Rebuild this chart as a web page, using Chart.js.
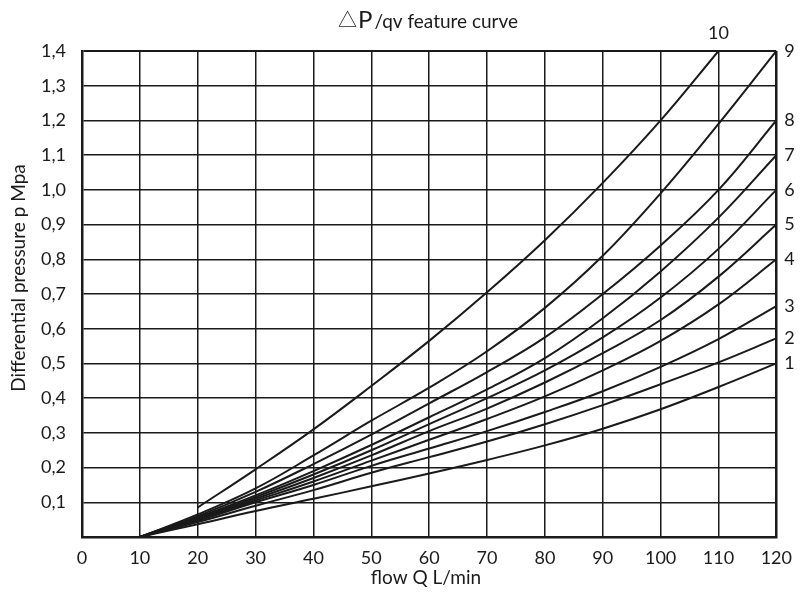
<!DOCTYPE html>
<html lang="en">
<head>
  <meta charset="UTF-8">
  <title>ΔP/qv feature curve</title>
  <script src="https://cdn.jsdelivr.net/npm/chart.js"></script>
  <style>
    body { margin: 0; background: #fff; }
    canvas { display: block; }
  </style>
</head>
<body>
  <canvas id="curveChart" width="802" height="592"></canvas>

  <script>
    // flow Q (L/min) at each grid column
    const flow = [10, 20, 30, 40, 50, 60, 70, 80, 90, 100, 110, 120];

    // differential pressure (MPa), one array per curve
    const curve1 = [0, 0.037, 0.075, 0.11, 0.146, 0.183, 0.222, 0.264, 0.312, 0.368, 0.432, 0.5];
    const curve2 = [0, 0.043, 0.09, 0.135, 0.185, 0.23, 0.275, 0.325, 0.38, 0.44, 0.503, 0.572];
    const curve3 = [0, 0.047, 0.1, 0.15, 0.205, 0.255, 0.305, 0.36, 0.42, 0.49, 0.57, 0.665];
    const curve4 = [0, 0.05, 0.105, 0.16, 0.22, 0.28, 0.34, 0.405, 0.48, 0.565, 0.67, 0.8];
    const curve5 = [0, 0.052, 0.11, 0.17, 0.235, 0.305, 0.37, 0.445, 0.53, 0.625, 0.75, 0.9];
    const curve6 = [0, 0.055, 0.115, 0.18, 0.25, 0.325, 0.4, 0.48, 0.575, 0.69, 0.83, 1.0];
    const curve7 = [0, 0.057, 0.12, 0.19, 0.265, 0.345, 0.425, 0.515, 0.63, 0.765, 0.92, 1.1];
    const curve8 = [0, 0.06, 0.13, 0.21, 0.295, 0.385, 0.475, 0.575, 0.7, 0.84, 1.0, 1.2];
    const curve9 = [0, 0.065, 0.14, 0.235, 0.335, 0.43, 0.535, 0.66, 0.81, 0.99, 1.19, 1.4];
    const curve10 = [null, 0.085, 0.195, 0.31, 0.435, 0.565, 0.705, 0.855, 1.02, 1.2, 1.4, null];

    const curves = [curve1, curve2, curve3, curve4, curve5, curve6, curve7, curve8, curve9, curve10];
    const curveNames = ['1', '2', '3', '4', '5', '6', '7', '8', '9', '10'];

    const yTicks = [0.1, 0.2, 0.3, 0.4, 0.5, 0.6, 0.7, 0.8, 0.9, 1.0, 1.1, 1.2, 1.3, 1.4];

    const FONT = 'Lato, "Open Sans", sans-serif';
    const INK = '#1a1a1a';

    const datasets = curves.map((c, i) => ({
      label: curveNames[i],
      data: flow.map((q, j) => ({ x: q, y: c[j] })).filter(p => p.y !== null),
      borderColor: INK,
      borderWidth: 2,
      pointRadius: 0,
      fill: false,
      tension: 0.4
    }));

    // curve numbers, main title and axis titles
    const annotate = {
      id: 'annotate',
      afterDraw(chart) {
        const { ctx, chartArea, scales } = chart;
        const xs = scales.x, ys = scales.y;
        ctx.save();
        ctx.fillStyle = INK;

        // numbers at the end of each curve
        ctx.font = '18px ' + FONT;
        ctx.textBaseline = 'middle';
        curves.forEach((c, i) => {
          const last = c.filter(v => v !== null);
          const endVal = last[last.length - 1];
          if (i === 9) {
            const q = flow[c.lastIndexOf(endVal)];
            ctx.textAlign = 'center';
            ctx.fillText(curveNames[i], xs.getPixelForValue(q), chartArea.top - 18);
          } else {
            ctx.textAlign = 'left';
            ctx.fillText(curveNames[i], chartArea.right + 8, ys.getPixelForValue(endVal));
          }
        });

        // title: triangle + big P + smaller rest
        ctx.textAlign = 'left';
        ctx.textBaseline = 'alphabetic';
        let x = 338;
        const base = 28;
        ctx.font = '19px "Noto Sans CJK SC", sans-serif';
        ctx.fillText('△', x, base - 1);
        x += ctx.measureText('△').width + 1;
        ctx.font = '24px ' + FONT;
        ctx.fillText('P', x, base);
        x += ctx.measureText('P').width + 2;
        ctx.font = '19px ' + FONT;
        ctx.fillText('/qv feature curve', x, base);

        // axis titles
        ctx.font = '19px ' + FONT;
        ctx.textAlign = 'center';
        ctx.textBaseline = 'middle';
        ctx.fillText('flow Q L/min', 426, 578);
        ctx.translate(19, 278);
        ctx.rotate(-Math.PI / 2);
        ctx.fillText('Differential pressure p Mpa', 0, 0);
        ctx.restore();
      }
    };

    new Chart(document.getElementById('curveChart'), {
      type: 'line',
      data: { datasets },
      plugins: [annotate],
      options: {
        responsive: false,
        animation: false,
        layout: { padding: { left: 0, top: 51, right: 19, bottom: 0 } },
        plugins: {
          legend: { display: false },
          tooltip: { enabled: false }
        },
        scales: {
          x: {
            type: 'linear',
            min: 0,
            max: 120,
            afterFit: s => { s.height = 55; },
            ticks: {
              stepSize: 10,
              color: INK,
              padding: 10,
              font: { family: FONT, size: 18 }
            },
            grid: {
              color: INK,
              drawTicks: false,
              lineWidth: c => (c.tick && c.tick.value === 120 ? 2.5 : 1.5)
            },
            border: { color: INK, width: 2.5 }
          },
          y: {
            min: 0,
            max: 1.4,
            afterFit: s => { s.width = 82; },
            afterBuildTicks: s => { s.ticks = [0].concat(yTicks).map(v => ({ value: v })); },
            ticks: {
              color: INK,
              padding: 16,
              font: { family: FONT, size: 18 },
              callback: v => (v === 0 ? '' : v.toFixed(1).replace('.', ','))
            },
            grid: {
              color: INK,
              drawTicks: false,
              lineWidth: c => (c.tick && c.tick.value === 1.4 ? 2 : 1.5)
            },
            border: { color: INK, width: 2.5 }
          }
        }
      }
    });
  </script>
</body>
</html>
